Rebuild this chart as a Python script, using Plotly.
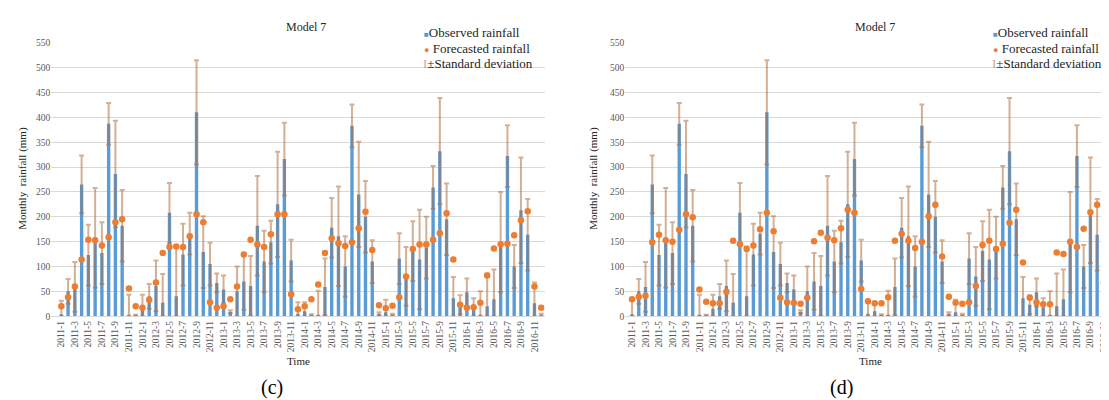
import plotly.graph_objects as go

months = [f"{y}-{m}" for y in range(2011, 2017) for m in range(1, 13)]
tick_labels = months[::2]

observed = [4, 50, 59, 265, 123, 158, 127, 387, 286, 182,
            1, 1, 15, 40, 61, 27, 208, 40, 124, 166,
            410, 129, 105, 67, 54, 9, 50, 70, 61, 182,
            110, 149, 225, 316, 112, 5, 10, 2, 1, 59,
            178, 161, 100, 383, 245, 200, 110, 5, 8, 3,
            116, 80, 131, 114, 138, 259, 332, 195, 36, 23,
            48, 18, 2, 20, 34, 149, 322, 100, 213, 164,
            26, 2]

std_dev = [27, 25, 50, 58, 61, 100, 62, 42, 107, 72,
           42, 2, 28, 25, 51, 58, 60, 100, 62, 42,
           105, 72, 43, 19, 28, 3, 50, 57, 60, 100,
           62, 43, 106, 73, 42, 23, 18, 2, 50, 57,
           60, 100, 61, 43, 106, 72, 43, 3, 25, 2,
           51, 59, 60, 100, 62, 43, 107, 72, 43, 19,
           28, 18, 48, 66, 60, 101, 62, 43, 106, 72,
           42, 3]

forecast_c = [20, 38, 60, 114, 154, 153, 142, 159, 189, 195,
              56, 20, 17, 33, 68, 127, 139, 140, 139, 161,
              205, 189, 28, 17, 20, 34, 60, 124, 154, 144,
              139, 165, 205, 205, 44, 14, 20, 34, 64, 127,
              157, 147, 141, 149, 177, 210, 133, 22, 16, 21,
              38, 80, 135, 144, 144, 154, 167, 207, 114, 23,
              17, 18, 27, 82, 136, 145, 146, 163, 193, 211,
              60, 17]

forecast_d = [34, 39, 41, 149, 164, 153, 150, 174, 205, 199,
              54, 29, 26, 26, 49, 152, 145, 135, 142, 175,
              208, 171, 37, 28, 27, 25, 37, 151, 168, 158,
              153, 177, 214, 208, 55, 30, 26, 26, 38, 152,
              166, 152, 137, 150, 201, 224, 120, 39, 27, 25,
              28, 61, 143, 152, 135, 146, 188, 214, 108, 37,
              28, 24, 24, 128, 125, 150, 139, 176, 209, 224,
              68, 29]

y_grid = list(range(0, 501, 50))
y_ticks = list(range(0, 551, 50))

BLUE = "#5B9BD5"
ORANGE = "#ED7D31"
ERR = "rgba(175,110,60,0.55)"
SERIF = "Liberation Serif, Times New Roman, serif"
W, H = 1109, 400

minus = [min(s, o) for s, o in zip(std_dev, observed)]

fig = go.Figure()
for xa, ya, fc in [("x", "y", forecast_c), ("x2", "y2", forecast_d)]:
    fig.add_trace(go.Bar(
        x=months, y=observed, xaxis=xa, yaxis=ya, marker_color=BLUE,
        marker_line_width=0, name="Observed rainfall", showlegend=False,
        error_y=dict(type="data", symmetric=False, array=std_dev, arrayminus=minus,
                     color=ERR, thickness=2, width=2.5),
    ))
    fig.add_trace(go.Scatter(
        x=months, y=fc, xaxis=xa, yaxis=ya, mode="markers",
        marker=dict(color=ORANGE, size=6.5), name="Forecasted rainfall", showlegend=False,
    ))

ydom = [89 / H, 369.5 / H]
tickfont = dict(family=SERIF, size=9.5, color="#595959")
xcommon = dict(type="category", categoryorder="array", categoryarray=months,
               tickmode="array", tickvals=tick_labels, ticktext=tick_labels,
               tickangle=-90, tickfont=tickfont, showgrid=False, showline=True,
               linecolor="#D9D9D9", linewidth=1, ticks="", zeroline=False)
ygrid = dict(range=[0, 550], tickmode="array", tickvals=y_grid, showticklabels=False,
             showgrid=True, gridcolor="#D9D9D9", gridwidth=1, zeroline=False,
             domain=ydom, fixedrange=True)
ylab = dict(range=[0, 550], tickmode="array", tickvals=y_ticks, ticktext=[str(v) for v in y_ticks],
            showgrid=False, zeroline=False, tickfont=tickfont, ticks="", side="left")

fig.update_layout(
    width=W, height=H, autosize=False,
    margin=dict(l=0, r=0, t=0, b=0),
    paper_bgcolor="white", plot_bgcolor="white",
    bargap=0.5, showlegend=False,
    font=dict(family=SERIF),
    xaxis=dict(domain=[43.2 / W, 536.6 / W], range=[-1.5, 71.5], anchor="y", **xcommon),
    xaxis2=dict(domain=[617.3 / W, 1106 / W], range=[-1.0, 71.5], anchor="y2", **xcommon),
    yaxis=dict(anchor="x", **ygrid),
    yaxis2=dict(anchor="x2", **ygrid),
    yaxis3=dict(overlaying="y", anchor="x", **ylab),
    yaxis4=dict(overlaying="y2", anchor="x2", **ylab),
)

# dummy traces so label axes render
fig.add_trace(go.Scatter(x=[months[0]], y=[None], xaxis="x", yaxis="y3", showlegend=False, hoverinfo="skip"))
fig.add_trace(go.Scatter(x=[months[0]], y=[None], xaxis="x2", yaxis="y4", showlegend=False, hoverinfo="skip"))

def ann(text, px, py, size, xanchor="center", yanchor="middle", angle=0, color="#262626"):
    fig.add_annotation(text=text, x=px / W, y=1 - py / H, xref="paper", yref="paper",
                       showarrow=False, xanchor=xanchor, yanchor=yanchor, textangle=angle,
                       font=dict(family=SERIF, size=size, color=color))

for off, tag, ycx, timex in [(0, "(c)", 15, 290), (569, "(d)", 586, 862)]:
    ann("Model 7", 298 + off, 14, 12)
    ann(f"<span style='color:{BLUE};font-size:8px'>■</span>Observed rainfall", 414 + off, 20, 13, xanchor="left")
    ann(f"<span style='color:{ORANGE};font-size:9px'>●</span> Forecasted rainfall", 414 + off, 36, 13, xanchor="left")
    ann(f"<span style='color:#D9A77F'>I</span>±Standard deviation", 413 + off, 52, 13, xanchor="left")
    ann("Monthly  rainfall (mm)", ycx, 170, 11, angle=-90)
    ann("Time", timex, 357, 11)
    ann(tag, 264 + off, 384, 20, color="black")

fig.write_html("out.html")
